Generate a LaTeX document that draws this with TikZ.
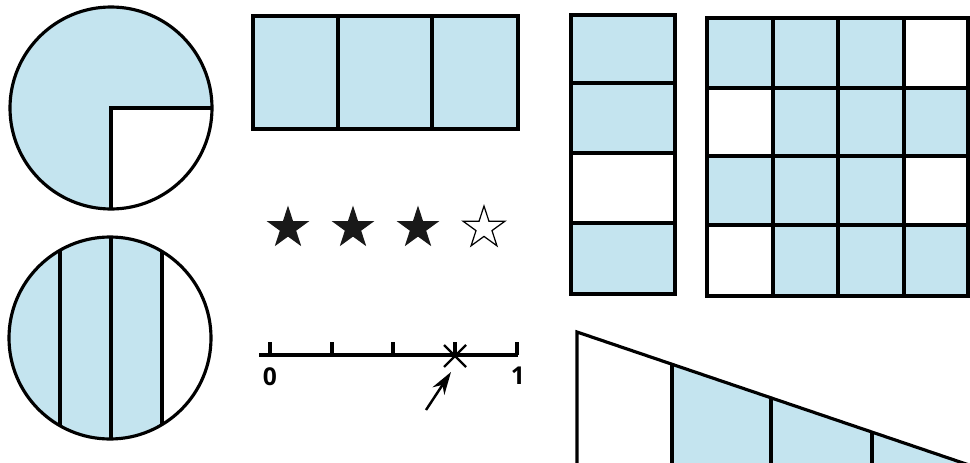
\documentclass[tikz,border=0pt]{standalone}
\usepackage{fontspec}
\setmainfont{Open Sans}
\usetikzlibrary{arrows.meta,shapes.geometric}
\definecolor{partblue}{HTML}{C4E4EF}
\tikzset{
  part/.style={fill=partblue},
  fullstar/.style={star, star points=5, star point ratio=2.618, minimum size=0.9cm, inner sep=0pt, fill=black!90},
  emptystar/.style={star, star points=5, star point ratio=2.618, minimum size=0.88cm, inner sep=0pt, draw=black, line width=0.7pt, fill=white},
  numlabel/.style={font=\fontsize{14}{16}\selectfont\bfseries, inner sep=0pt}
}
\begin{document}
\begin{tikzpicture}[x=0.02cm, y=-0.02cm, line width=1.8pt, line join=miter]
  \useasboundingbox (0,0) rectangle (970,463);
  % circle, three quarters
  \fill[part] (111,108) circle (101);
  \fill[white] (111,108) -- (212,108) arc (0:90:101) -- cycle;
  \draw (111,108) circle (101);
  \draw (212,108) -- (111,108) -- (111,209);
  % circle in strips
  \begin{scope}
    \clip (110,338) circle (101);
    \fill[part] (0,230) rectangle (162,450);
    \draw (60,230) -- (60,450);
    \draw (111,230) -- (111,450);
    \draw (162,230) -- (162,450);
  \end{scope}
  \draw (110,338) circle (101);
  % wide rectangle
  \draw[part] (253,16) rectangle (518,129);
  \draw (338,16) -- (338,129);
  \draw (432,16) -- (432,129);
  % stars
  \node[fullstar] (s1) at (288,228) {};
  \node[fullstar] (s2) at (353,228) {};
  \node[fullstar] (s3) at (418,228) {};
  \node[emptystar] (s4) at (484,228) {};
  % number line
  \draw (259,355) -- (518,355);
  \foreach \x in {270,332,393,455,517}
    \draw (\x,355) -- (\x,342);
  \coordinate (mark) at (455,356);
  \draw[line width=1.3pt] (444,345) -- (466,367) (444,367) -- (466,345);
  \node[numlabel] (zero) at (270,377) {0};
  \node[numlabel] (one) at (518,376) {1};
  \coordinate (arrtail) at (426,410);
  \coordinate (arrtip) at (451,372);
  \draw[line width=1.4pt, -{Stealth[length=13pt, width=8pt]}] (arrtail) -- (arrtip);
  % tall rectangle
  \fill[part] (571,15) rectangle (675,153);
  \fill[part] (571,223) rectangle (675,294);
  \draw (571,15) rectangle (675,294);
  \foreach \y in {83,153,223}
    \draw (571,\y) -- (675,\y);
  % grid of sixteen
  \foreach \c/\r in {0/0,1/0,2/0,1/1,2/1,3/1,0/2,1/2,2/2,1/3,2/3,3/3}
    \fill[part] ({707+65.25*\c},{18+69.5*\r}) rectangle ({707+65.25*(\c+1)},{18+69.5*(\r+1)});
  \draw (707,18) rectangle (968,296);
  \foreach \x in {773,838,904}
    \draw (\x,18) -- (\x,296);
  \foreach \y in {88,156,225}
    \draw (707,\y) -- (968,\y);
  % triangle
  \begin{scope}
    \clip (577,332) -- (969,465) -- (577,465) -- cycle;
    \fill[part] (672,320) rectangle (980,470);
    \draw (672,320) -- (672,470);
    \draw (771,320) -- (771,470);
    \draw (872,320) -- (872,470);
  \end{scope}
  \draw (577,332) -- (969,465) -- (577,465) -- cycle;
\end{tikzpicture}
\end{document}
